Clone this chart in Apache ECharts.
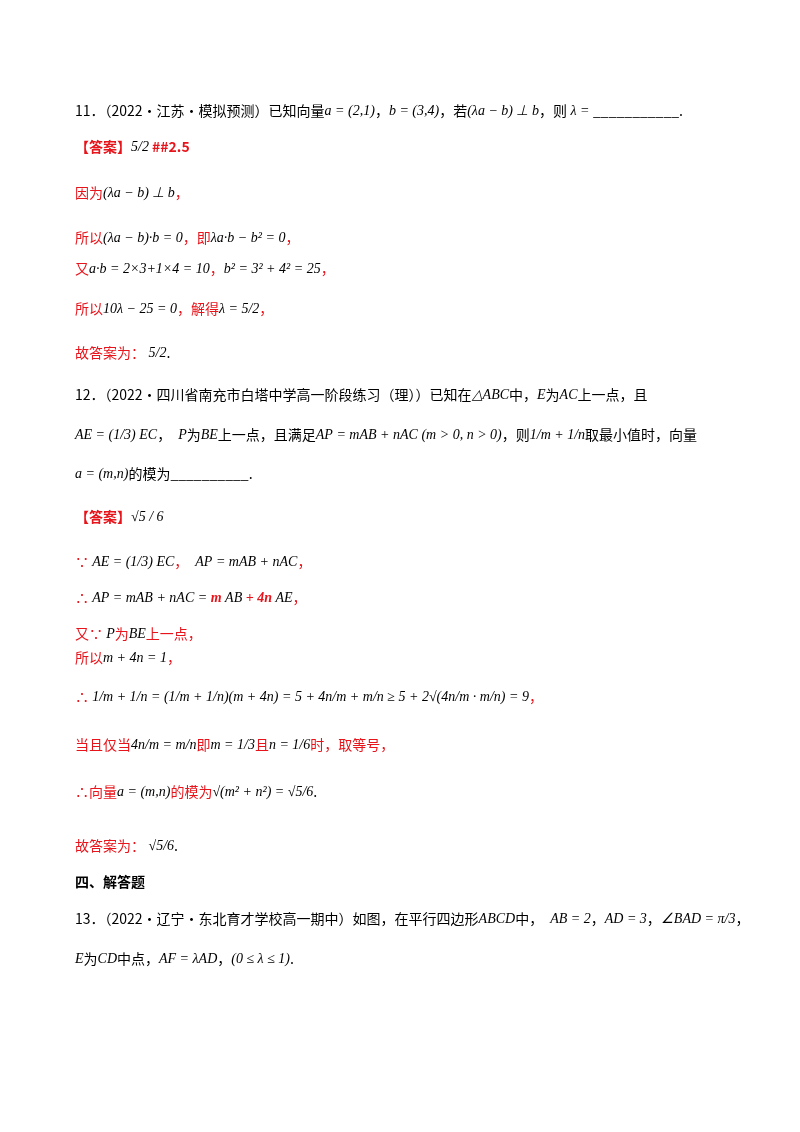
<!DOCTYPE html>
<html><head><meta charset="utf-8">
<script src="https://cdn.jsdelivr.net/npm/echarts@6/dist/echarts.min.js"></script>
<style>html,body{margin:0;padding:0;background:#fff}#c{width:800px;height:1132px}</style>
</head><body><div id="c"></div>
<script>
// text lines: [y, rich-formatted string]
const lineY = [114,150,196,241,272,312,356,398,438,477,520,565,601,637,661,700,748,795,849,885,922,962];
const lineText = [
 '{k|11．（2022·江苏·模拟预测）已知向量}{m|a = (2,1)}{k|，}{m|b = (3,4)}{k|，若}{m|(λa − b) ⊥ b}{k|，则}{m| λ = }{k|___________.}',
 '{rb|【答案】}{m|5/2}{rb| ##2.5}',
 '{r|因为}{m|(λa − b) ⊥ b}{r|，}',
 '{r|所以}{m|(λa − b)·b = 0}{r|，即}{m|λa·b − b² = 0}{r|，}',
 '{r|又}{m|a·b = 2×3+1×4 = 10}{r|，}{m|b² = 3² + 4² = 25}{r|，}',
 '{r|所以}{m|10λ − 25 = 0}{r|，解得}{m|λ = 5/2}{r|，}',
 '{r|故答案为：}{m| 5/2}{k|.}',
 '{k|12．（2022·四川省南充市白塔中学高一阶段练习（理））已知在}{m|△ABC}{k|中，}{m|E}{k|为}{m|AC}{k|上一点，且}',
 '{m|AE = (1/3) EC}{k|，}{m|  P}{k|为}{m|BE}{k|上一点，且满足}{m|AP = mAB + nAC (m > 0, n > 0)}{k|，则}{m|1/m + 1/n}{k|取最小值时，向量}',
 '{m|a = (m,n)}{k|的模为__________.}',
 '{rb|【答案】}{m|√5 / 6}',
 '{r|∵ }{m|AE = (1/3) EC}{r|，}{m|  AP = mAB + nAC}{r|，}',
 '{r|∴ }{m|AP = mAB + nAC = }{rm|m }{m|AB}{rm| + 4n }{m|AE}{r|，}',
 '{r|又∵ }{m|P}{r|为}{m|BE}{r|上一点，}',
 '{r|所以}{m|m + 4n = 1}{r|，}',
 '{r|∴ }{m|1/m + 1/n = (1/m + 1/n)(m + 4n) = 5 + 4n/m + m/n ≥ 5 + 2√(4n/m · m/n) = 9}{r|，}',
 '{r|当且仅当}{m|4n/m = m/n}{r|即}{m|m = 1/3}{r|且}{m|n = 1/6}{r|时，取等号，}',
 '{r|∴向量}{m|a = (m,n)}{r|的模为}{m|√(m² + n²) = √5/6}{k|.}',
 '{r|故答案为：}{m| √5/6}{k|.}',
 '{b|四、解答题}',
 '{k|13．（2022·辽宁·东北育才学校高一期中）如图，在平行四边形}{m|ABCD}{k|中，}{m|  AB = 2}{k|，}{m|AD = 3}{k|，}{m|∠BAD = π/3}{k|，}',
 '{m|E}{k|为}{m|CD}{k|中点，}{m|AF = λAD}{k|，}{m|(0 ≤ λ ≤ 1)}{k|.}'
];
const base = {fontSize:14, fontFamily:'Noto Sans CJK SC'};
const rich = {
 k:{...base, fill:'#000'},
 r:{...base, fill:'#e8141b'},
 rb:{...base, fill:'#e8141b', fontWeight:'bold'},
 b:{...base, fill:'#000', fontWeight:'bold'},
 m:{fontSize:14, fontFamily:'Liberation Serif', fontStyle:'italic', fill:'#000'},
 rm:{fontSize:14, fontFamily:'Liberation Serif', fontStyle:'italic', fontWeight:'bold', fill:'#e8141b'}
};
const chart = echarts.init(document.getElementById('c'));
chart.setOption({
 backgroundColor:'#fff',
 graphic: lineText.map((t,i)=>({type:'text', left:75, top:lineY[i]-10, style:{text:t, rich, fill:'#000'}}))
});
</script></body></html>
